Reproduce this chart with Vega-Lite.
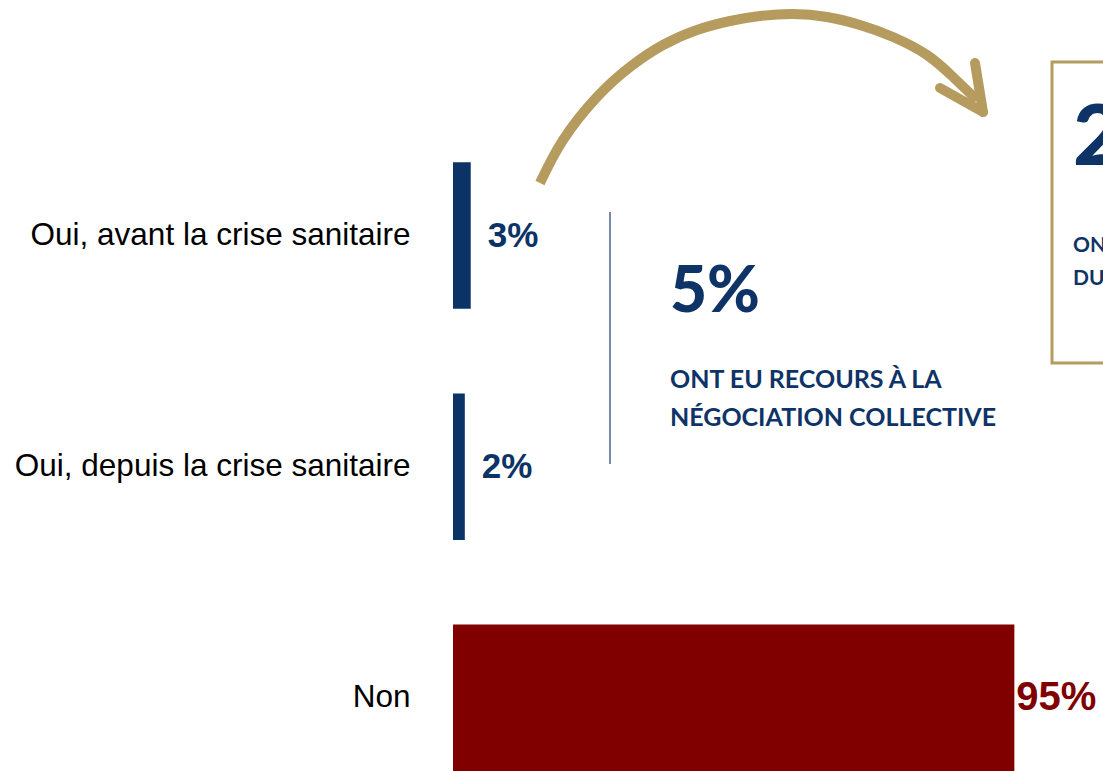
{
  "$schema": "https://vega.github.io/schema/vega-lite/v6.json",
  "autosize": "none",
  "width": 650,
  "height": 771,
  "padding": {"left": 453, "top": 0, "right": 0, "bottom": 0},
  "background": "white",
  "config": {"view": {"stroke": null}},
  "datasets": {
    "bars": [
      {"reponse": "Oui, avant la crise sanitaire", "pct": 0.03},
      {"reponse": "Oui, depuis la crise sanitaire", "pct": 0.02},
      {"reponse": "Non", "pct": 0.95}
    ],
    "arc": [
      {"x": 0.1472, "y": 183},
      {"x": 0.1862, "y": 140},
      {"x": 0.2437, "y": 97},
      {"x": 0.2995, "y": 67},
      {"x": 0.3554, "y": 45},
      {"x": 0.4129, "y": 30},
      {"x": 0.4688, "y": 21},
      {"x": 0.5195, "y": 16},
      {"x": 0.5754, "y": 14},
      {"x": 0.6329, "y": 17},
      {"x": 0.6888, "y": 25},
      {"x": 0.7446, "y": 37},
      {"x": 0.8022, "y": 55},
      {"x": 0.8462, "y": 77},
      {"x": 0.8868, "y": 100}
    ],
    "wings": [
      {"x": 0.8834, "y": 63, "x2": 0.8969, "y2": 112},
      {"x": 0.8242, "y": 88, "x2": 0.8969, "y2": 112}
    ],
    "divider": [{"x": 0.2657, "y": 212, "y2": 464}],
    "box": [{"x": 1.0137, "x2": 1.2, "y": 62, "y2": 363}],
    "bigLeft": [{"x": 0.3672, "y": 312, "t": "5%"}],
    "smallLeft": [
      {"x": 0.3672, "y": 388, "t": "ONT EU RECOURS À LA"},
      {"x": 0.3672, "y": 426, "t": "NÉGOCIATION COLLECTIVE"}
    ],
    "bigRight": [{"x": 1.0492, "y": 165, "t": "2"}],
    "smallRight": [
      {"x": 1.0492, "y": 252, "t": "ONT"},
      {"x": 1.0492, "y": 285, "t": "DU"}
    ]
  },
  "layer": [
    {
      "data": {"name": "bars"},
      "encoding": {
        "y": {
          "field": "reponse",
          "type": "nominal",
          "sort": null,
          "scale": {"paddingInner": 0.366, "paddingOuter": 0.3513, "align": 1},
          "axis": {
            "title": null,
            "ticks": false,
            "domain": false,
            "labelFont": "Liberation Sans",
            "labelFontSize": 31.5,
            "labelColor": "#000000",
            "labelPadding": 43,
            "labelLimit": 600
          }
        },
        "x": {
          "field": "pct",
          "type": "quantitative",
          "scale": {"domain": [0, 1.1]},
          "axis": null
        }
      },
      "layer": [
        {
          "mark": {"type": "bar"},
          "encoding": {
            "color": {
              "field": "reponse",
              "type": "nominal",
              "scale": {
                "domain": ["Oui, avant la crise sanitaire", "Oui, depuis la crise sanitaire", "Non"],
                "range": ["#0B3366", "#0B3366", "#800000"]
              },
              "legend": null
            }
          }
        },
        {
          "transform": [{"filter": "datum.reponse !== 'Non'"}],
          "mark": {"type": "text", "align": "left", "baseline": "middle", "dx": 17, "font": "Liberation Sans", "fontWeight": "bold", "fontSize": 35, "color": "#0B3366"},
          "encoding": {"text": {"field": "pct", "type": "quantitative", "format": ".0%"}}
        },
        {
          "transform": [{"filter": "datum.reponse === 'Non'"}],
          "mark": {"type": "text", "align": "left", "baseline": "middle", "dx": 2, "font": "Liberation Sans", "fontWeight": "bold", "fontSize": 40, "color": "#800000"},
          "encoding": {"text": {"field": "pct", "type": "quantitative", "format": ".0%"}}
        }
      ]
    },
    {
      "encoding": {
        "x": {"field": "x", "type": "quantitative", "scale": {"domain": [0, 1.1]}, "axis": null},
        "y": {"field": "y", "type": "quantitative", "scale": {"domain": [0, 771], "reverse": true}, "axis": null}
      },
      "layer": [
        {
          "data": {"name": "arc"},
          "mark": {"type": "line", "interpolate": "natural", "color": "#B69B5E", "strokeWidth": 10, "strokeCap": "butt"}
        },
        {
          "data": {"name": "wings"},
          "mark": {"type": "rule", "color": "#B69B5E", "strokeWidth": 10, "strokeCap": "round"},
          "encoding": {"x2": {"field": "x2"}, "y2": {"field": "y2"}}
        },
        {
          "data": {"name": "divider"},
          "mark": {"type": "rule", "color": "#1F3A70", "strokeWidth": 1.2},
          "encoding": {"y2": {"field": "y2"}}
        },
        {
          "data": {"name": "box"},
          "mark": {"type": "rect", "fill": "transparent", "stroke": "#B69B5E", "strokeWidth": 3},
          "encoding": {"x2": {"field": "x2"}, "y2": {"field": "y2"}}
        },
        {
          "data": {"name": "bigLeft"},
          "mark": {"type": "text", "align": "left", "baseline": "alphabetic", "font": "Lato", "fontWeight": 900, "fontSize": 64, "color": "#0E3467"},
          "encoding": {"text": {"field": "t"}}
        },
        {
          "data": {"name": "smallLeft"},
          "mark": {"type": "text", "align": "left", "baseline": "alphabetic", "font": "Lato", "fontWeight": "bold", "fontSize": 25, "color": "#0E3467"},
          "encoding": {"text": {"field": "t"}}
        },
        {
          "data": {"name": "bigRight"},
          "mark": {"type": "text", "align": "left", "baseline": "alphabetic", "font": "Lato", "fontWeight": 900, "fontSize": 84, "color": "#0E3467"},
          "encoding": {"text": {"field": "t"}}
        },
        {
          "data": {"name": "smallRight"},
          "mark": {"type": "text", "align": "left", "baseline": "alphabetic", "font": "Lato", "fontWeight": "bold", "fontSize": 21, "color": "#0E3467"},
          "encoding": {"text": {"field": "t"}}
        }
      ]
    }
  ],
  "resolve": {"scale": {"y": "independent"}}
}
